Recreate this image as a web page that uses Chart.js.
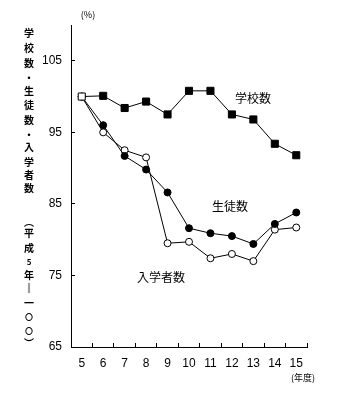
<!DOCTYPE html>
<html>
<head>
<meta charset="utf-8">
<script src="https://cdn.jsdelivr.net/npm/chart.js@4"></script>
<style>
  body { margin: 0; background: #fff; }
  canvas { display: block; }
</style>
</head>
<body>
<canvas id="myChart" width="352" height="397"></canvas>
<script>
// Data (index: 平成5年 = 100)
const years = ['5', '6', '7', '8', '9', '10', '11', '12', '13', '14', '15'];
const schools = [100, 100.1, 98.4, 99.3, 97.5, 100.8, 100.8, 97.5, 96.8, 93.4, 91.8];
const students = [100, 96.0, 91.7, 89.8, 86.6, 81.6, 80.9, 80.5, 79.4, 82.2, 83.8];
const entrants = [100, 95.0, 92.5, 91.5, 79.5, 79.7, 77.4, 78.0, 77.0, 81.4, 81.7];
const yTicks = [65, 75, 85, 95, 105];

// vertical axis title, one character per cell
const yTitleChars = ['学', '校', '数', '・', '生', '徒', '数', '・', '入', '学', '者', '数',
                     '︵', '平', '成', '5', '年', '‖', '一', '〇', '〇', '︶'];
const yTitleRows = [33, 48, 63, 78, 91, 105, 120, 135, 147, 162, 175, 188,
                    222, 233, 248, 262, 275, 288, 303, 317, 331, 343];

const jpFont = '"Noto Sans CJK JP", sans-serif';

// Draw the extra labels
const textPlugin = {
    id: 'texts',
    afterDraw(chart) {
        const ctx = chart.ctx;
        ctx.save();
        ctx.fillStyle = '#000';
        ctx.textBaseline = 'middle';
        ctx.textAlign = 'center';

        yTitleChars.forEach((ch, i) => {
            ctx.font = (ch === '〇' || ch === '5' ? 'bold 8px ' : 'bold 10px ') + jpFont;
            ctx.fillText(ch, 29, yTitleRows[i]);
        });

        ctx.font = '9px ' + jpFont;
        ctx.fillText('(%)', 88, 15);
        ctx.fillText('(年度)', 303, 378);

        ctx.font = '12px ' + jpFont;
        ctx.textAlign = 'left';
        ctx.fillText('学校数', 235, 98);
        ctx.fillText('生徒数', 212, 206);
        ctx.fillText('入学者数', 137, 277);
        ctx.restore();
    }
};

const tickFont = { family: '"Liberation Sans", Arial, sans-serif', size: 12 };

const ctx = document.getElementById('myChart').getContext('2d');
const myChart = new Chart(ctx, {
    type: 'line',
    data: {
        labels: years,
        datasets: [
            {
                label: '学校数',
                data: schools,
                borderColor: '#000',
                borderWidth: 1,
                pointStyle: 'rect',
                pointRadius: 5,
                pointBorderWidth: 1,
                pointBorderColor: '#000',
                pointBackgroundColor: schools.map((v, i) => i === 0 ? '#fff' : '#000')
            },
            {
                label: '生徒数',
                data: students,
                borderColor: '#000',
                borderWidth: 1,
                pointStyle: 'circle',
                pointRadius: 3.5,
                pointBorderWidth: 1,
                pointBorderColor: '#000',
                pointBackgroundColor: '#000'
            },
            {
                label: '入学者数',
                data: entrants,
                borderColor: '#000',
                borderWidth: 1,
                pointStyle: 'circle',
                pointRadius: 3.5,
                pointBorderWidth: 1,
                pointBorderColor: '#000',
                pointBackgroundColor: '#fff'
            }
        ]
    },
    options: {
        responsive: false,
        animation: false,
        layout: { padding: { top: 25, right: 45, left: 0, bottom: 0 } },
        plugins: {
            legend: { display: false },
            tooltip: { enabled: false }
        },
        scales: {
            x: {
                offset: true,
                grid: { offset: true, drawOnChartArea: false, tickLength: -4, color: '#000' },
                border: { color: '#000', width: 1 },
                ticks: { color: '#000', font: tickFont, padding: 13, maxRotation: 0, autoSkip: false },
                afterFit: s => { s.height = 50; }
            },
            y: {
                min: 65,
                max: 110,
                afterBuildTicks: s => { s.ticks = yTicks.map(v => ({ value: v })); },
                grid: { drawOnChartArea: false, tickLength: -4, color: '#000' },
                border: { color: '#000', width: 1 },
                ticks: { color: '#000', font: tickFont, padding: 13 },
                afterFit: s => { s.width = 71; }
            }
        }
    },
    plugins: [textPlugin]
});
</script>
</body>
</html>
